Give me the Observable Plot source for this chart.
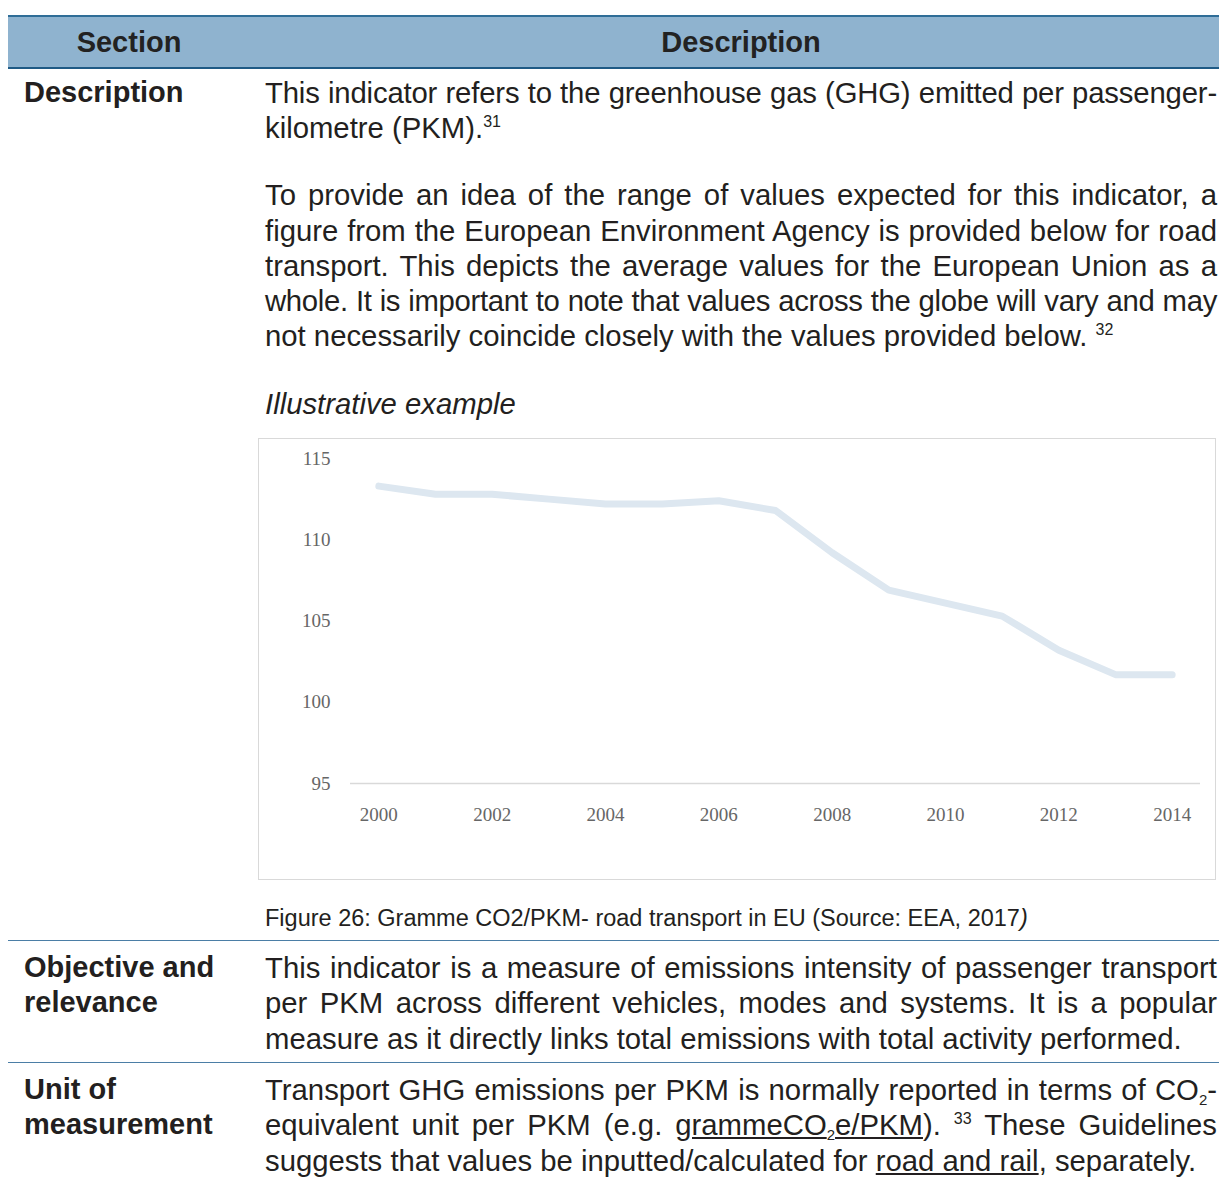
<!DOCTYPE html>
<html>
<head>
<meta charset="utf-8">
<script src="https://cdn.jsdelivr.net/npm/d3@7"></script>
<script src="https://cdn.jsdelivr.net/npm/@observablehq/plot@0.6"></script>
<style>
  html, body { margin: 0; padding: 0; background: #fff; }
  body { width: 1219px; height: 1177px; position: relative; overflow: hidden;
         font-family: "Liberation Sans", Arial, sans-serif; color: #231f20; }
  .t { position: absolute; font-size: 29.3px; line-height: 35px; left: 265px; width: 952px; }
  .j { text-align: justify; text-align-last: justify; }
  .lbl { position: absolute; left: 24px; font-size: 29px; line-height: 35px; font-weight: bold; }
  sup { font-size: 16px; vertical-align: 0; position: relative; top: -11px; }
  sub { font-size: 15px; line-height: 1; vertical-align: 0; position: relative; top: 5px; }
  .hdr { position: absolute; left: 8px; top: 15px; width: 1211px; height: 50px;
         background: #8fb3cf; border-top: 2px solid #2f6d97; border-bottom: 2px solid #1f5a85; }
  .hdr span { position: absolute; top: 0; line-height: 50px; font-size: 29px; font-weight: bold; color: #222; transform: translateX(-50%); }
  .rule { position: absolute; left: 8px; width: 1211px; height: 0; border-top: 1.5px solid #4b7ea6; }
  #box { position: absolute; left: 258px; top: 438px; width: 956px; height: 440px; border: 1px solid #d9d9d9; }
  #chart { position: absolute; left: 0; top: 0; }
</style>
</head>
<body>
<div class="hdr"><span style="left:121px">Section</span><span style="left:733px">Description</span></div>

<div class="lbl" style="top:75px">Description</div>
<div class="t j" style="top:75px">This indicator refers to the greenhouse gas (GHG) emitted per passenger-</div>
<div class="t" style="top:110px">kilometre (PKM).<sup>31</sup></div>

<div class="t j" style="top:177px">To provide an idea of the range of values expected for this indicator, a</div>
<div class="t j" style="top:213px">figure from the European Environment Agency is provided below for road</div>
<div class="t j" style="top:248px">transport. This depicts the average values for the European Union as a</div>
<div class="t j" style="top:283px">whole. It is important to note that values across the globe will vary and may</div>
<div class="t" style="top:318px">not necessarily coincide closely with the values provided below. <sup>32</sup></div>

<div class="t" style="top:386px;font-style:italic">Illustrative example</div>

<div id="box"><div id="chart"></div></div>

<div class="t" style="top:903px;font-size:23.5px;line-height:30px">Figure 26: Gramme CO2/PKM- road transport in EU (Source: EEA, 2017<i>)</i></div>

<div class="rule" style="top:940px"></div>

<div class="lbl" style="top:950px">Objective and</div>
<div class="lbl" style="top:985px">relevance</div>
<div class="t j" style="top:950px">This indicator is a measure of emissions intensity of passenger transport</div>
<div class="t j" style="top:985px">per PKM across different vehicles, modes and systems. It is a popular</div>
<div class="t" style="top:1021px">measure as it directly links total emissions with total activity performed.</div>

<div class="rule" style="top:1062px"></div>

<div class="lbl" style="top:1072px">Unit of</div>
<div class="lbl" style="top:1107px">measurement</div>
<div class="t j" style="top:1072px">Transport GHG emissions per PKM is normally reported in terms of CO<sub>2</sub>-</div>
<div class="t j" style="top:1107px">equivalent unit per PKM (e.g. <u>grammeCO<sub>2</sub>e/PKM</u>). <sup>33</sup> These Guidelines</div>
<div class="t" style="top:1143px">suggests that values be inputted/calculated for <u>road and rail</u>, separately.</div>

<script>
// Squeeze any justified line that would otherwise wrap
document.querySelectorAll('.j').forEach(el => {
  const probe = el.cloneNode(true);
  probe.style.width = 'auto';
  probe.style.whiteSpace = 'nowrap';
  probe.style.textAlign = 'left';
  probe.style.textAlignLast = 'auto';
  probe.style.visibility = 'hidden';
  document.body.appendChild(probe);
  const w = probe.getBoundingClientRect().width;
  const n = probe.textContent.length;
  probe.remove();
  if (w > 950) el.style.letterSpacing = ((950 - w) / n - 0.02) + 'px';
});

const years = [2000, 2001, 2002, 2003, 2004, 2005, 2006, 2007, 2008, 2009, 2010, 2011, 2012, 2013, 2014];
const values = [113.3, 112.8, 112.8, 112.5, 112.2, 112.2, 112.4, 111.8, 109.2, 106.9, 106.1, 105.3, 103.2, 101.7, 101.7];
const xTickLabels = [2000, 2002, 2004, 2006, 2008, 2010, 2012, 2014];
const yTickLabels = [95, 100, 105, 110, 115];

const data = years.map((year, i) => ({year, value: values[i]}));

const chart = Plot.plot({
  width: 956,
  height: 440,
  marginLeft: 91,
  marginRight: 15,
  marginTop: 19,
  marginBottom: 96,
  x: {domain: [1999.5, 2014.5]},
  y: {domain: [95, 115]},
  style: {fontFamily: "'Liberation Serif', 'Times New Roman', serif", fontSize: "19px", color: "#666", background: "transparent"},
  marks: [
    Plot.ruleY([95], {stroke: "#d9d9d9", strokeWidth: 1.5}),
    Plot.line(data, {x: "year", y: "value", stroke: "#dde7f0", strokeWidth: 7, strokeLinecap: "round", strokeLinejoin: "round"}),
    Plot.axisX({ticks: xTickLabels, tickSize: 0, tickPadding: 24, tickFormat: d => String(d), label: null, fill: "#666"}),
    Plot.axisY({ticks: yTickLabels, tickSize: 0, tickPadding: 20, label: null, fill: "#666"})
  ]
});
document.getElementById("chart").appendChild(chart);
</script>
</body>
</html>
